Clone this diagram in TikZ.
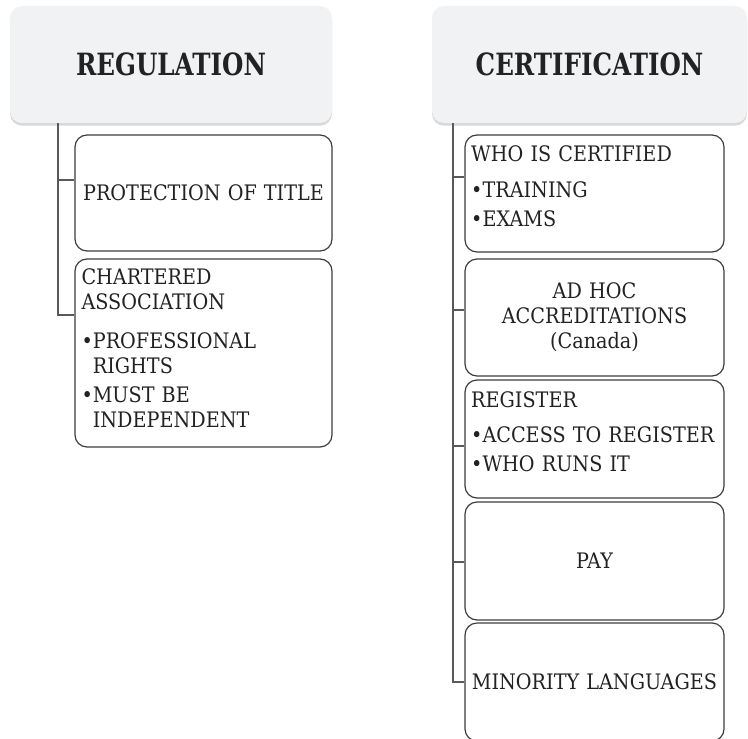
\documentclass[tikz,border=0pt]{standalone}
\usepackage{fontspec}
\setmainfont{DejaVu Serif}[FakeStretch=0.9]
\newfontfamily\headfont{DejaVu Serif}[FakeStretch=0.8]
\usetikzlibrary{calc,shadows}
\definecolor{headfill}{HTML}{F1F2F4}
\definecolor{boxline}{HTML}{3C3C3C}
\definecolor{inktext}{HTML}{222222}
\begin{document}
\begin{tikzpicture}[x=0.75pt, y=-0.75pt,
  header/.style={rectangle, rounded corners=9pt, fill=headfill, text=inktext,
    minimum height=87.75pt, font=\headfont\bfseries\fontsize{23}{27}\selectfont,
    drop shadow={shadow xshift=0pt, shadow yshift=-2pt, opacity=0.25, fill=black!60}},
  itembox/.style={rectangle, draw=boxline, line width=0.9pt, rounded corners=9pt,
    text=inktext, inner sep=4pt, font=\fontsize{16}{18.75}\selectfont},
  leftbox/.style={itembox, minimum width=192.75pt, text width=183pt},
  rightbox/.style={itembox, minimum width=194.25pt, text width=185pt},
  spine/.style={draw=boxline!85, line width=0.9pt}]
\useasboundingbox (0,0) rectangle (748,738);

% Headers
\node[header, minimum width=241.5pt] (reg) at (171,64.5) {REGULATION};
\node[header, minimum width=236.25pt] (cert) at (589.5,64.5) {CERTIFICATION};

% Regulation column
\node[leftbox, minimum height=87pt, align=center] (prot) at (203.5,193) {PROTECTION OF TITLE};
\node[leftbox, minimum height=141pt, align=left] (chart) at (203.5,353)
  {CHARTERED\\ASSOCIATION\\[10pt]\textbullet PROFESSIONAL\\\phantom{\textbullet}RIGHTS\\[3pt]\textbullet MUST BE\\\phantom{\textbullet}INDEPENDENT\\[-11.25pt]\mbox{}};

% Certification column
\node[rightbox, minimum height=87.75pt, align=left] (who) at (594.5,193.5)
  {WHO IS CERTIFIED\\[8pt]\textbullet TRAINING\\[3pt]\textbullet EXAMS\\[-7.5pt]\mbox{}};
\node[rightbox, minimum height=87.75pt, align=center] (adhoc) at (594.5,317.5)
  {AD HOC\\ACCREDITATIONS\\(Canada)};
\node[rightbox, minimum height=88.5pt, align=left] (regi) at (594.5,439)
  {REGISTER\\[8pt]\textbullet ACCESS TO REGISTER\\[3pt]\textbullet WHO RUNS IT\\[-7.5pt]\mbox{}};
\node[rightbox, minimum height=88.5pt, align=center] (pay) at (594.5,561) {PAY};
\node[rightbox, minimum height=88.5pt, align=center] (mino) at (594.5,682) {MINORITY LANGUAGES};

% Connectors
\coordinate (lspine) at (58,0);
\coordinate (rspine) at (453,0);
\coordinate (protin) at ($(prot.west)+(0,-13)$);
\coordinate (chartin) at ($(chart.west)+(0,-38)$);
\draw[spine] (reg.south -| lspine) |- (chartin);
\draw[spine] (lspine |- protin) -- (protin);
\draw[spine] (cert.south -| rspine) |- (mino.west);
\foreach \b/\dy in {who/-16.5, adhoc/-7.5, regi/7, pay/1} {
  \coordinate (tick) at ($(\b.west)+(0,\dy)$);
  \draw[spine] (rspine |- tick) -- (tick);
}

\end{tikzpicture}
\end{document}
